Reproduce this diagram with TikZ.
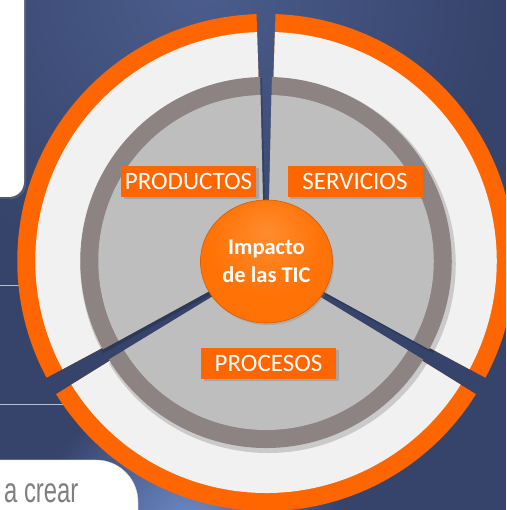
\documentclass[tikz,border=0pt]{standalone}
\usepackage{fontspec}
\setmainfont{Carlito}
\newfontfamily\narrowfont{Liberation Sans}
\usetikzlibrary{shadows,shapes.geometric}

\definecolor{bgnavy}{HTML}{36446B}
\definecolor{bglight}{HTML}{4B5D8D}
\definecolor{bgblue}{HTML}{6F8DCB}
\definecolor{ticorange}{HTML}{FF6600}
\definecolor{bandwhite}{HTML}{F1F1F1}
\definecolor{ringgray}{HTML}{8C8382}
\definecolor{diskgray}{HTML}{BEBEBE}
\definecolor{rulegray}{HTML}{B9C0D2}
\definecolor{textgray}{HTML}{7F7F7F}
\definecolor{ballhi}{HTML}{FF8C2E}
\definecolor{ballmid}{HTML}{FF7206}
\definecolor{ballrim}{HTML}{DC5A00}

\pgfdeclareradialshading{ticball}{\pgfpoint{0bp}{12bp}}{%
  color(0bp)=(ballhi); color(22bp)=(ballmid); color(44bp)=(ballmid); color(60bp)=(ballrim)}

\tikzset{
  etiqueta/.style={fill=ticorange, text=white, font=\fontsize{25}{30}\selectfont,
    minimum width=135pt, minimum height=31pt, inner sep=0pt,
    drop shadow={shadow xshift=2.5pt, shadow yshift=-2.5pt, opacity=.4}},
  nucleo/.style={ellipse, minimum width=132pt, minimum height=123pt, inner sep=0pt,
    shading=ticball, draw=ballrim, line width=0.6pt, text=white, align=center,
    font=\fontsize{22.5}{28}\selectfont\bfseries,
    drop shadow={shadow xshift=1.5pt, shadow yshift=-2pt, opacity=.3}},
}

\begin{document}
\begin{tikzpicture}[x=1pt,y=1pt]

  \useasboundingbox (0,0) rectangle (506,510);
  \clip (0,0) rectangle (506,510);

  % ── background ──────────────────────────────────────────────────────
  \fill[bgnavy] (0,0) rectangle (506,510);
  \shade[inner color=bglight, outer color=bgnavy] (200,520) circle (300);
  \shade[inner color=bgblue, outer color=bgnavy] (190,-20) circle (150);

  % ── left panels and rules ───────────────────────────────────────────
  \path[fill=white, rounded corners=15pt,
        drop shadow={shadow xshift=2pt, shadow yshift=-2pt, opacity=.35}]
        (-40,313) rectangle (24,560);
  \draw[rulegray, line width=0.8pt] (0,225) -- (100,225);
  \draw[rulegray, line width=0.8pt] (0,106) -- (100,106);

  \path[fill=white, draw=black!15, rounded corners=42pt] (-60,-60) rectangle (138,50);
  \node (crear) [anchor=base west, inner sep=0pt, text=textgray] at (4,8)
        {\scalebox{0.68}[1]{\fontsize{35}{40}\narrowfont a crear}};

  % ── the three exploded segments ─────────────────────────────────────
  \begin{scope}[shift={(266,248)}]
    \foreach \b in {30,150,270} {
      \begin{scope}[shift={(\b:2)}]
        \fill[ticorange] (0,0) -- (\b-58.2:247)
             arc[start angle=\b-58.2, end angle=\b+58.2, radius=247] -- cycle;
        \fill[bandwhite] (0,0) -- (\b-58.2:229)
             arc[start angle=\b-58.2, end angle=\b+58.2, radius=229] -- cycle;
        \fill[black, opacity=.16] (2,-3) -- ++(\b-58.7:186)
             arc[start angle=\b-58.7, end angle=\b+58.7, radius=186] -- cycle;
        \fill[ringgray] (0,0) -- (\b-58.7:184)
             arc[start angle=\b-58.7, end angle=\b+58.7, radius=184] -- cycle;
        \fill[diskgray] (0,0) -- (\b-58.7:166)
             arc[start angle=\b-58.7, end angle=\b+58.7, radius=166] -- cycle;
      \end{scope}
    }
  \end{scope}

  % ── labels and the centre ───────────────────────────────────────────
  \node (productos) [etiqueta] at (188.5,328.5) {PRODUCTOS};
  \node (servicios) [etiqueta] at (355,328.5)   {SERVICIOS};
  \node (procesos)  [etiqueta] at (268.5,146.5) {PROCESOS};

  \node (tic) [nucleo] at (266.5,248.5) {Impacto\\de las TIC};

\end{tikzpicture}
\end{document}
